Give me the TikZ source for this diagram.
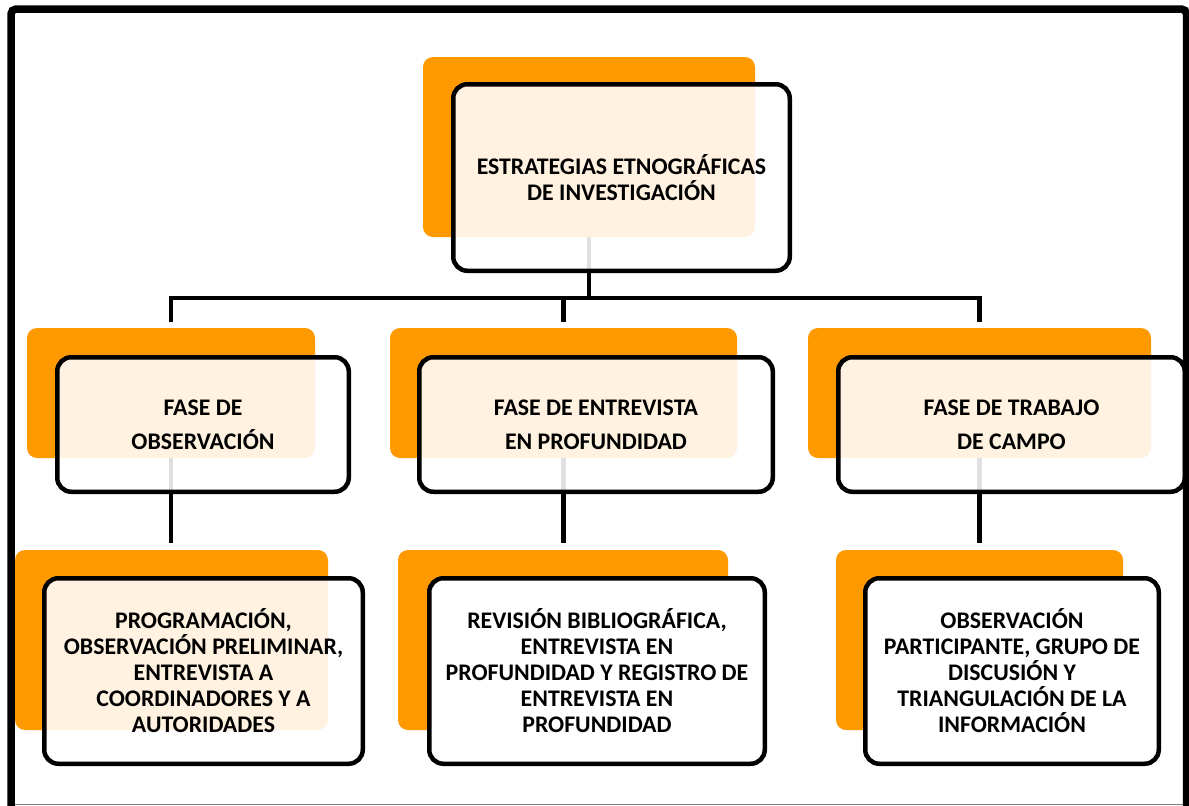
\documentclass[tikz,border=0pt]{standalone}
\usepackage{fontspec}
\setmainfont{Carlito}
\usepackage{xcolor}

\begin{document}
\begin{tikzpicture}[x=1pt,y=-1pt,
  back/.style={fill=naranja,rounded corners=10pt,inner sep=0pt},
  box/.style={draw=black,line width=4.5pt,fill=white,fill opacity=0.88,text opacity=1,
    rounded corners=14pt,inner sep=0pt,align=center,
    font=\bfseries\fontsize{23.8}{26}\selectfont},
  fase/.style={box,font=\bfseries\fontsize{23.8}{34}\selectfont},
  solid/.style={fill opacity=1},
  link/.style={line width=4.5pt}]
\definecolor{naranja}{HTML}{FF9900}
\useasboundingbox (0,0) rectangle (1189,806);
% orange backs
\foreach \nm/\cx/\cy/\w/\h in {b0/589/147/332/180,
    m1/171/393/288/130,m2/563.5/393/347/130,m3/979.5/393/343/130,
    l1/171.5/640/313/180,l2/563/640/330/180,l3/979.5/640/287/180}
  {\node[back,minimum width=\w,minimum height=\h] (\nm) at (\cx,\cy) {};}
% connectors
\coordinate (hub) at (589,298);
\draw[link] (b0.south) -- (hub);
\foreach \nm in {m1,m2,m3}
  {\draw[link,shorten >=6pt] (hub) -| (\nm.north);}
\foreach \up/\dn in {m1/l1,m2/l2,m3/l3}
  {\draw[link,shorten >=7pt] (\up.south) -- (\up.south |- \dn.north);}
% boxes
\node[box,minimum width=336.5,minimum height=186.5] (t0) at (621.5,177.5)
  {ESTRATEGIAS ETNOGRÁFICAS\\DE INVESTIGACIÓN};
\node[fase,minimum width=291.5,minimum height=134.5] (n1) at (203,424.5)
  {FASE DE\\OBSERVACIÓN};
\node[fase,minimum width=353.5,minimum height=134.5] (n2) at (596,424.5)
  {FASE DE ENTREVISTA\\EN PROFUNDIDAD};
\node[fase,minimum width=346.5,minimum height=134.5] (n3) at (1011.5,424.5)
  {FASE DE TRABAJO\\DE CAMPO};
\node[box,minimum width=318.5,minimum height=185.5] (s1) at (203.5,671)
  {PROGRAMACIÓN,\\OBSERVACIÓN PRELIMINAR,\\ENTREVISTA A\\COORDINADORES Y A\\AUTORIDADES};
\node[box,solid,minimum width=335.5,minimum height=185.5] (s2) at (597,671)
  {REVISIÓN BIBLIOGRÁFICA,\\ENTREVISTA EN\\PROFUNDIDAD Y REGISTRO DE\\ENTREVISTA EN\\PROFUNDIDAD};
\node[box,solid,minimum width=293.5,minimum height=185.5] (s3) at (1012,671)
  {OBSERVACIÓN\\PARTICIPANTE, GRUPO DE\\DISCUSIÓN Y\\TRIANGULACIÓN DE LA\\INFORMACIÓN};
% frame
\draw[gray,line width=1.5pt] (11,804.5) -- (1189,804.5);
\draw[line width=7.5pt,rounded corners=5pt] (11,806) -- (11,9) -- (1186.5,9) -- (1186.5,806);
\end{tikzpicture}
\end{document}
